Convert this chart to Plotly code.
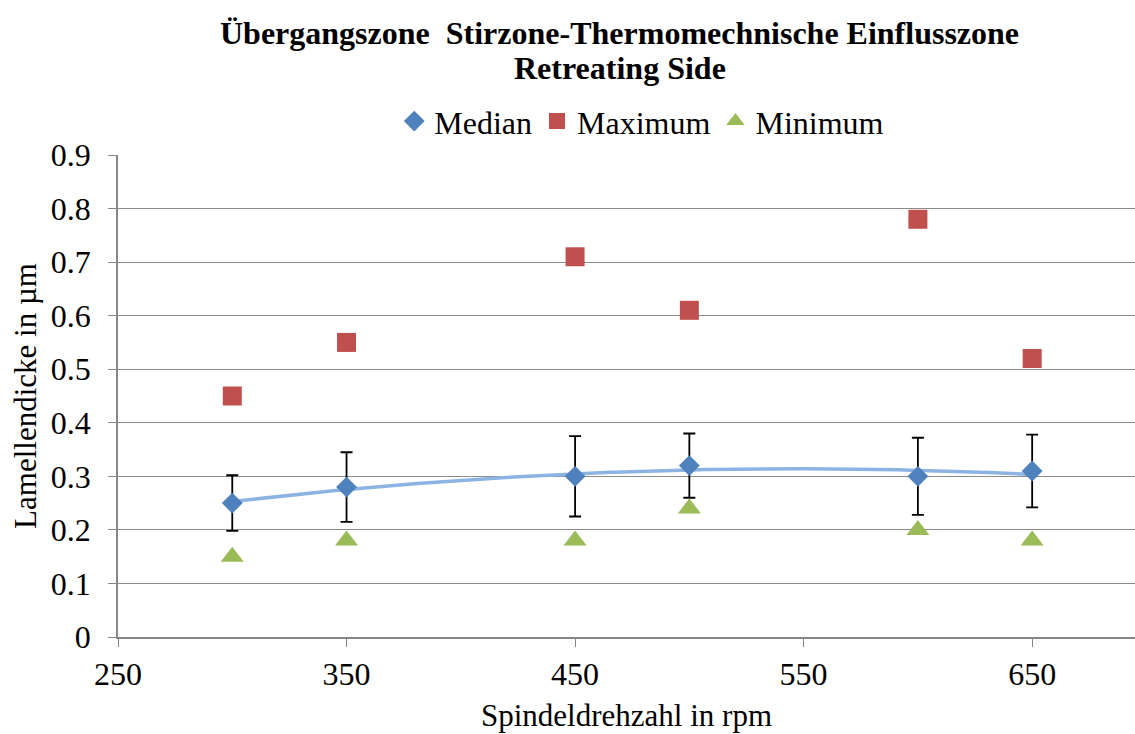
import numpy as np
import plotly.graph_objects as go

rpm = [300, 350, 450, 500, 600, 650]
median = [0.25, 0.28, 0.30, 0.32, 0.30, 0.31]
maximum = [0.45, 0.55, 0.71, 0.61, 0.78, 0.52]
minimum = [0.15, 0.18, 0.18, 0.24, 0.20, 0.18]
err = [0.052, 0.065, 0.075, 0.06, 0.072, 0.068]

title_l1 = "Übergangszone  Stirzone-Thermomechnische Einflusszone"
title_l2 = "Retreating Side"

# polynomial (order 2) trend line of the median, as in the original spreadsheet
coef = np.polyfit(rpm, median, 2)
xt = np.linspace(min(rpm), max(rpm), 200)
yt = np.polyval(coef, xt)

FONT = "Liberation Serif"
fig = go.Figure()
fig.add_trace(go.Scatter(x=xt, y=yt, mode="lines", line=dict(color="#8DB3E2", width=3.5),
                         showlegend=False, hoverinfo="skip"))
fig.add_trace(go.Scatter(x=rpm, y=median, mode="markers", name="Median",
                         marker=dict(symbol="diamond", size=16, color="#4F81BD"),
                         error_y=dict(type="data", array=err, visible=True, color="black",
                                      thickness=1.8, width=6)))
fig.add_trace(go.Scatter(x=rpm, y=maximum, mode="markers", name="Maximum",
                         marker=dict(symbol="square", size=19, color="#C0504D")))
fig.add_trace(go.Scatter(x=rpm, y=minimum, mode="markers", name="Minimum",
                         marker=dict(symbol="triangle-up", size=20, color="#9BBB59")))

fig.update_layout(
    width=1135, height=734,
    paper_bgcolor="white", plot_bgcolor="white",
    margin=dict(l=118, r=0, t=155, b=97),
    font=dict(family=FONT, size=32, color="black"),
    legend=dict(orientation="h", x=0.515, xanchor="center", y=1.07, yanchor="middle",
                xref="paper", font=dict(family=FONT, size=32), itemwidth=30,
                tracegroupgap=0, traceorder="normal"),
    showlegend=True,
    annotations=[
        dict(text="<b>" + title_l1 + "</b>", x=0.4936, y=1.253, xref="paper", yref="paper",
             xanchor="center", yanchor="middle", showarrow=False,
             font=dict(family=FONT, size=32)),
        dict(text="<b>" + title_l2 + "</b>", x=0.4936, y=1.1805, xref="paper", yref="paper",
             xanchor="center", yanchor="middle", showarrow=False,
             font=dict(family=FONT, size=32)),
    ],
)
fig.update_xaxes(range=[250, 695], tick0=250, dtick=100, showgrid=False,
                 showline=True, linecolor="#868686", linewidth=1.5,
                 ticks="outside", ticklen=8, tickcolor="#868686",
                 title=dict(text="Spindeldrehzahl in rpm", standoff=13, font=dict(size=31)),
                 tickfont=dict(size=32), zeroline=False, automargin=False)
fig.update_yaxes(range=[0, 0.9], dtick=0.1, showgrid=True, gridcolor="#8C8C8C", gridwidth=1,
                 showline=True, linecolor="#868686", linewidth=1.5,
                 ticks="outside", ticklen=8, tickcolor="#868686",
                 tickformat="~g", ticklabelstandoff=11,
                 title=dict(text="Lamellendicke in µm", standoff=5, font=dict(size=31)),
                 tickfont=dict(size=32), zeroline=False, automargin=False)

fig.write_html("out.html", config={"displayModeBar": False},
               post_script="document.body.style.margin='0';")
